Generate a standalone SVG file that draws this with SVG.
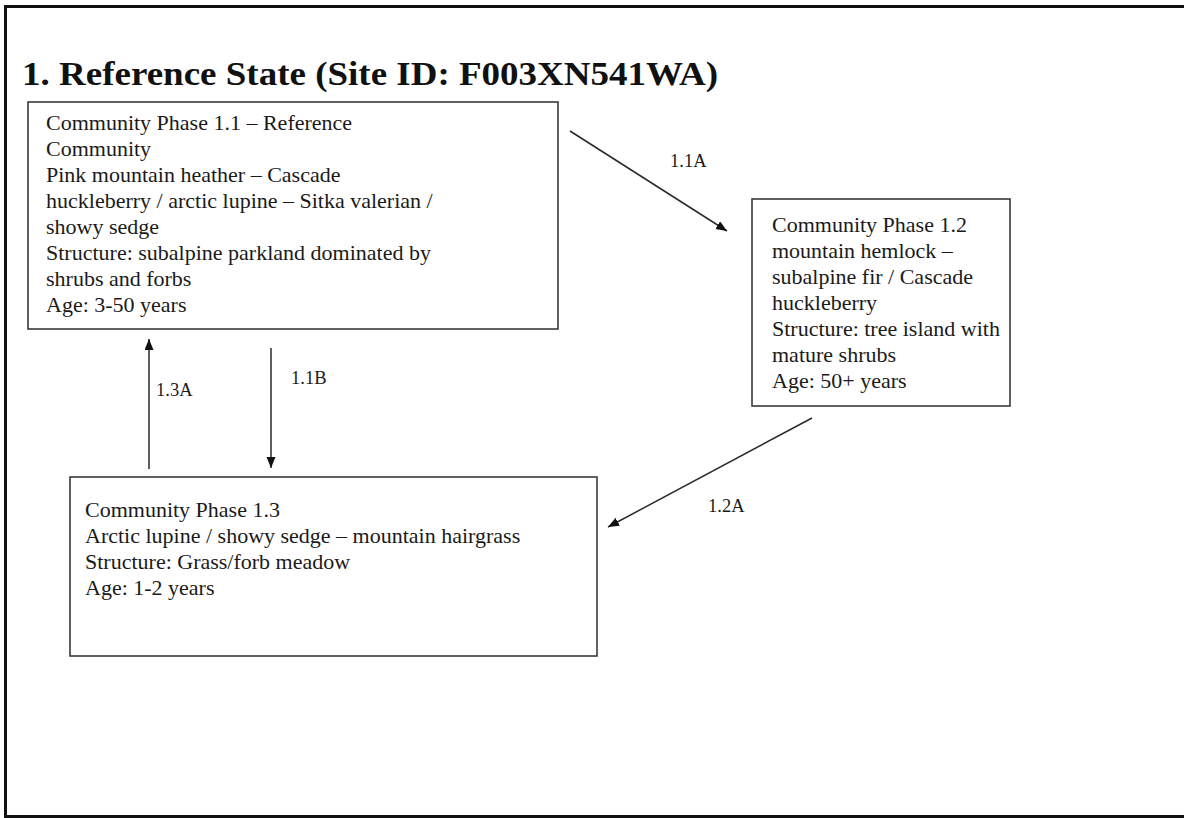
<svg xmlns="http://www.w3.org/2000/svg" width="1184" height="818" viewBox="0 0 1184 818">
<style>
.frame{fill:none;stroke:#111;stroke-width:3}
.box{fill:#fff;stroke:#3a3a3a;stroke-width:1.6}
.t{font-family:"Liberation Serif","Times New Roman",serif;font-size:22px;fill:#1a1a1a}
.lbl{font-family:"Liberation Serif","Times New Roman",serif;font-size:18.5px;fill:#1a1a1a}
.title{font-family:"Liberation Serif","Times New Roman",serif;font-size:33px;font-weight:bold;fill:#111}
.c{fill:none;stroke:#2a2a2a;stroke-width:1.5}
</style>
<defs>
<marker id="ah" markerUnits="userSpaceOnUse" markerWidth="12" markerHeight="10" refX="11" refY="4.5" orient="auto">
<path d="M0,0 L11,4.5 L0,9 z" fill="#111"/>
</marker>
</defs>
<rect width="1184" height="818" fill="#fff"/>
<rect class="frame" x="5.5" y="6.5" width="1184" height="810"/>
<text class="title" x="22" y="85" textLength="696" lengthAdjust="spacingAndGlyphs">1. Reference State (Site ID: F003XN541WA)</text>

<g id="connectors">
<line class="c" x1="570" y1="131" x2="727" y2="231" marker-end="url(#ah)"/>
<line class="c" x1="812" y1="418" x2="608" y2="527" marker-end="url(#ah)"/>
<line class="c" x1="271" y1="348" x2="271" y2="468" marker-end="url(#ah)"/>
<line class="c" x1="149" y1="469" x2="149" y2="339" marker-end="url(#ah)"/>
<text class="lbl" x="670" y="167">1.1A</text>
<text class="lbl" x="708" y="512">1.2A</text>
<text class="lbl" x="291" y="384">1.1B</text>
<text class="lbl" x="156" y="396">1.3A</text>
</g>

<g id="phase-1-1">
<rect class="box" x="28" y="102" width="530" height="227"/>
<text class="t" x="46" y="130">Community Phase 1.1 – Reference</text>
<text class="t" x="46" y="156">Community</text>
<text class="t" x="46" y="182">Pink mountain heather – Cascade</text>
<text class="t" x="46" y="208">huckleberry / arctic lupine – Sitka valerian /</text>
<text class="t" x="46" y="234">showy sedge</text>
<text class="t" x="46" y="260">Structure: subalpine parkland dominated by</text>
<text class="t" x="46" y="286">shrubs and forbs</text>
<text class="t" x="46" y="312">Age: 3-50 years</text>
</g>

<g id="phase-1-2">
<rect class="box" x="752" y="199" width="258" height="207"/>
<text class="t" x="772" y="232">Community Phase 1.2</text>
<text class="t" x="772" y="258">mountain hemlock –</text>
<text class="t" x="772" y="284">subalpine fir / Cascade</text>
<text class="t" x="772" y="310">huckleberry</text>
<text class="t" x="772" y="336">Structure: tree island with</text>
<text class="t" x="772" y="362">mature shrubs</text>
<text class="t" x="772" y="388">Age: 50+ years</text>
</g>

<g id="phase-1-3">
<rect class="box" x="70" y="477" width="527" height="179"/>
<text class="t" x="85" y="517">Community Phase 1.3</text>
<text class="t" x="85" y="543">Arctic lupine / showy sedge – mountain hairgrass</text>
<text class="t" x="85" y="569">Structure: Grass/forb meadow</text>
<text class="t" x="85" y="595">Age: 1-2 years</text>
</g>
</svg>
